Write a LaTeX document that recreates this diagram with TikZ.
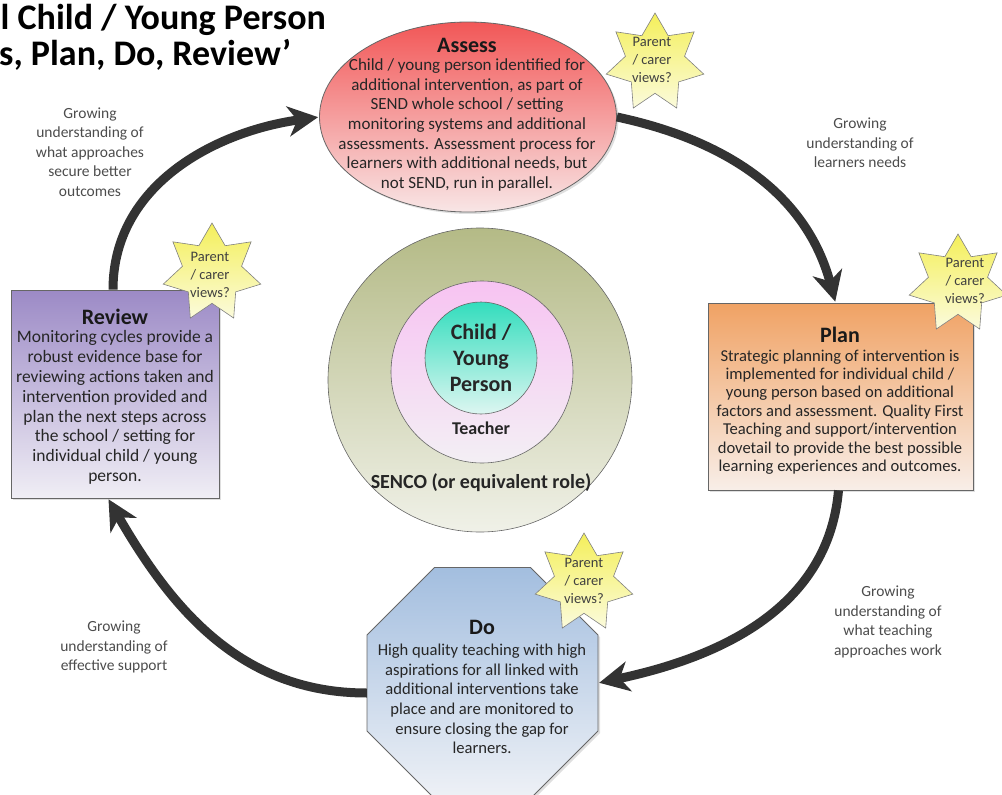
\documentclass[tikz,border=0pt]{standalone}
\usepackage{fontspec}
\setmainfont{Carlito}
\usetikzlibrary{shapes.geometric,arrows.meta,shadows}
\definecolor{arrowc}{HTML}{333333}
\definecolor{assTop}{HTML}{F25757}
\definecolor{assBot}{HTML}{F8E6E6}
\definecolor{planTop}{HTML}{F0A264}
\definecolor{planBot}{HTML}{F8EEE8}
\definecolor{revTop}{HTML}{9C8AC6}
\definecolor{revBot}{HTML}{F0EEF5}
\definecolor{doTop}{HTML}{A3BEDF}
\definecolor{doBot}{HTML}{EEF1F6}
\definecolor{starTop}{HTML}{F4EF5A}
\definecolor{starBot}{HTML}{FBFBDC}
\definecolor{outTop}{HTML}{B4BA86}
\definecolor{outBot}{HTML}{F0F1E8}
\definecolor{pinkTop}{HTML}{F7C3F2}
\definecolor{pinkBot}{HTML}{F3EFF4}
\definecolor{tealTop}{HTML}{33DDBD}
\definecolor{tealBot}{HTML}{DDF6F1}
\begin{document}
\begin{tikzpicture}[x=1pt,y=-1pt,
  shapeline/.style={draw=black!60, line width=0.8pt},
  shad/.style={drop shadow={opacity=0.25, shadow xshift=2pt, shadow yshift=-2pt}},
  body/.style={align=center, text=black!85, font=\fontsize{17}{19.6}\selectfont, inner sep=0pt},
  ttl/.style={font=\bfseries\fontsize{22}{24}\selectfont, text=black!90, inner sep=0pt},
  lbl/.style={align=center, text=black!70, font=\fontsize{15.5}{19.6}\selectfont, inner sep=0pt},
  starshape/.style={star, star points=7, star point ratio=1.65, minimum size=100pt, inner sep=0pt, draw=black!50, line width=0.6pt, top color=starTop, bottom color=starBot},
  startxt/.style={align=center, font=\fontsize{14.5}{18}\selectfont, text=black!75, inner sep=0pt},
  mid/.style={align=center, text=black!85, inner sep=0pt},
  cyc/.style={line width=9pt, draw=arrowc, -{Stealth[length=30pt,width=30pt,inset=9pt]}, shorten >=1pt},
]
\useasboundingbox (0,0) rectangle (1002,795);
\clip (0,0) rectangle (1002,795);

% title
\node[anchor=base west, inner sep=0pt, font=\bfseries\fontsize{36}{40}\selectfont] (t1) at (0.5,29) {l Child / Young Person};
\node[anchor=base west, inner sep=0pt, font=\bfseries\fontsize{36}{40}\selectfont] (t2) at (-1,65) {s, Plan, Do, Review’};

% centre circles
\node[circle, shapeline, line width=0.6pt, minimum size=304pt, top color=outTop, bottom color=outBot] (senco) at (480,380) {};
\node[circle, shapeline, line width=0.6pt, minimum size=182pt, top color=pinkTop, bottom color=pinkBot] (teacher) at (482,372) {};
\node[circle, shapeline, line width=0.6pt, minimum size=112pt, top color=tealTop, bottom color=tealBot] (child) at (481,358) {};
\node[mid, font=\bfseries\fontsize{22}{26}\selectfont] (childtxt) at (481,358) {Child /\\Young\\Person};
\node[mid, font=\bfseries\fontsize{18}{20}\selectfont] (teachtxt) at (481,428) {Teacher};
\node[mid, font=\bfseries\fontsize{20}{22}\selectfont] (sencotxt) at (481,483) {SENCO (or equivalent role)};

% Assess
\node[ellipse, shapeline, shad, minimum width=297pt, minimum height=190pt, top color=assTop, bottom color=assBot] (assess) at (468,117) {};
\node[ttl] (asst) at (467,45) {Assess};
\node[body] (assb) at (467,125) {Child / young person identified for\\additional intervention, as part of\\SEND whole school / setting\\monitoring systems and additional\\assessments. Assessment process for\\learners with additional needs, but\\not SEND, run in parallel.};

% Plan
\node[rectangle, shapeline, shad, minimum width=265pt, minimum height=187pt, top color=planTop, bottom color=planBot] (plan) at (840.5,396.5) {};
\node[ttl] (plant) at (840,335) {Plan};
\node[body, font=\fontsize{16.6}{18.4}\selectfont] (planb) at (840,412) {Strategic planning of intervention is\\implemented for individual child /\\young person based on additional\\factors and assessment. Quality First\\Teaching and support/intervention\\dovetail to provide the best possible\\learning experiences and outcomes.};

% Review
\node[rectangle, shapeline, shad, minimum width=208pt, minimum height=208pt, top color=revTop, bottom color=revBot] (review) at (115,394) {};
\node[ttl] (revt) at (115,317) {Review};
\node[body, font=\fontsize{17.5}{19.8}\selectfont] (revb) at (115,407.5) {Monitoring cycles provide a\\robust evidence base for\\reviewing actions taken and\\intervention provided and\\plan the next steps across\\the school / setting for\\individual child / young\\person.};

% Do (octagon)
\path[shapeline, shad, top color=doTop, bottom color=doBot] (434.5,567.5) -- (530.5,567.5) -- (598,635) -- (598,731) -- (530.5,798.5) -- (434.5,798.5) -- (367,731) -- (367,635) -- cycle;
\node[rectangle, inner sep=0pt, minimum width=231pt, minimum height=231pt] (do) at (482.5,683) {};
\node[ttl] (dot) at (482,627) {Do};
\node[body, font=\fontsize{16.6}{19.6}\selectfont] (dob) at (482,699) {High quality teaching with high\\aspirations for all linked with\\additional interventions take\\place and are monitored to\\ensure closing the gap for\\learners.};

% stars
\node[starshape] (s1) at (655,63) {};
\node[startxt] (s1t) at (652,60) {Parent\\/ carer\\views?};
\node[starshape] (s2) at (958,284) {};
\node[startxt] (s2t) at (965,281) {Parent\\/ carer\\views?};
\node[starshape] (s3) at (584,583) {};
\node[startxt] (s3t) at (584,581) {Parent\\/ carer\\views?};
\node[starshape] (s4) at (212,273) {};
\node[startxt] (s4t) at (210,275) {Parent\\/ carer\\views?};

% cycle arrows
\draw[cyc] ([xshift=-2pt]review.north) to[out=90,in=188] (assess.west);
\draw[cyc] (assess.east) to[out=-12,in=105] ([xshift=-5pt]plan.north);
\draw[cyc] ([xshift=-2pt]plan.south) to[out=-95,in=12] (do.east);
\draw[cyc] ([yshift=-10pt]do.west) to[out=180,in=-60] ([xshift=-7pt]review.south);

% labels
\node[lbl] (l1) at (90,152) {Growing\\understanding of\\what approaches\\secure better\\outcomes};
\node[lbl] (l2) at (860,143) {Growing\\understanding of\\learners needs};
\node[lbl] (l3) at (888,622) {Growing\\understanding of\\what teaching\\approaches work};
\node[lbl] (l4) at (114,647) {Growing\\understanding of\\effective support};
\end{tikzpicture}
\end{document}
